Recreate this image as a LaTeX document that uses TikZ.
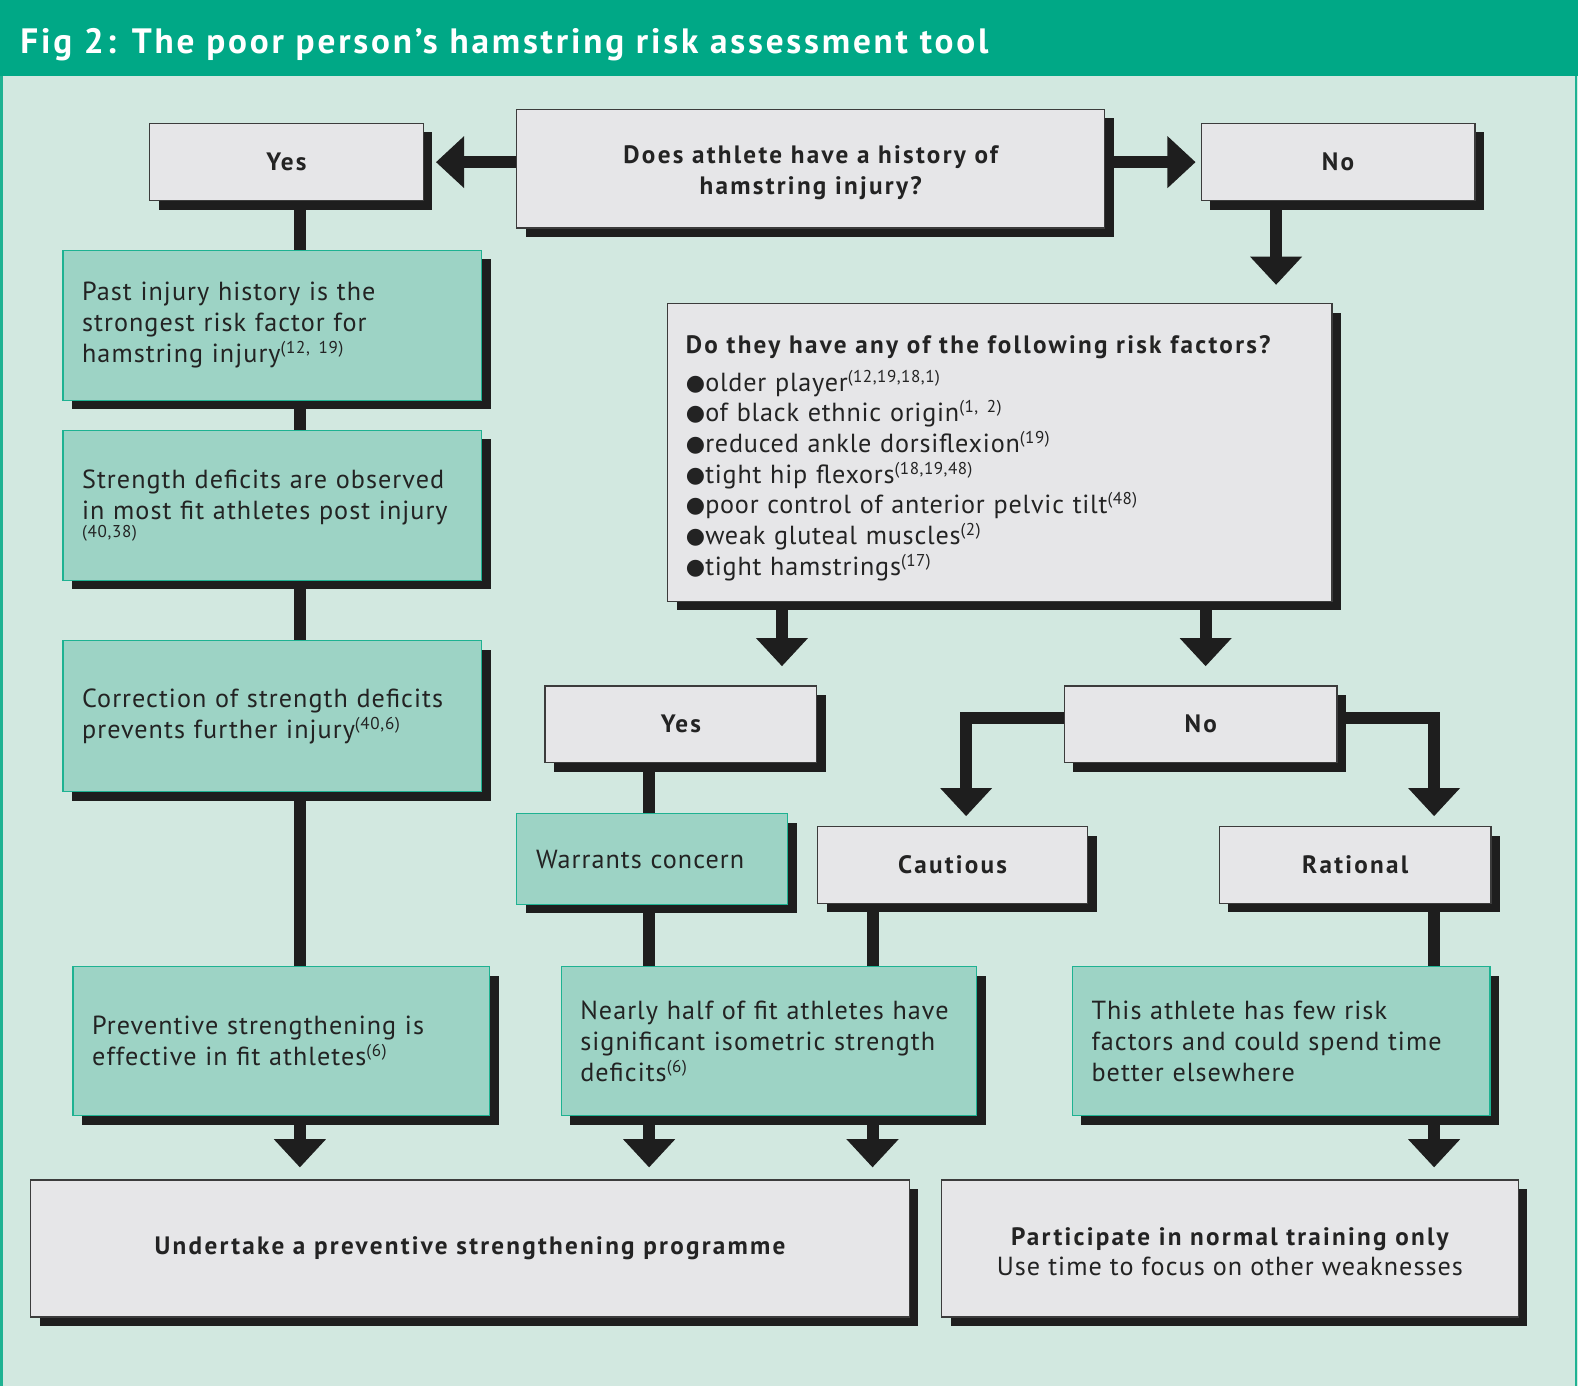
\documentclass[tikz,border=0pt]{standalone}
\usepackage{fontspec}
\setmainfont{PT Sans}
\newfontfamily\boldsp{PT Sans}[LetterSpace=9]
\newfontfamily\titlefont{PT Sans}[LetterSpace=8]
\newfontfamily\regsp{PT Sans}[LetterSpace=4]
\newfontfamily\listsp{PT Sans}[LetterSpace=3]
\newfontfamily\dejavu{DejaVu Sans}
\usetikzlibrary{shadows,arrows.meta,calc}
\definecolor{hdr}{RGB}{0,168,134}
\definecolor{bgc}{RGB}{210,232,224}
\definecolor{tfill}{RGB}{157,211,197}
\definecolor{tborder}{RGB}{30,178,146}
\definecolor{gfill}{RGB}{230,230,232}
\definecolor{gborder}{RGB}{60,60,60}
\definecolor{shad}{RGB}{30,30,30}
\definecolor{txt}{RGB}{35,35,35}
\pgfdeclarelayer{back}
\pgfdeclarelayer{lines}
\pgfsetlayers{back,lines,main}
\newcommand\rf[1]{\raisebox{9pt}{\fontsize{17}{17}\selectfont #1}}
\newcommand\bul{\raisebox{1pt}{\dejavu\fontsize{22}{22}\selectfont ●}}
\tikzset{
  boxbase/.style={anchor=north west, inner ysep=0pt, text=txt, line width=1.2pt,
    drop shadow={shadow xshift=9pt, shadow yshift=-9pt, fill=shad, opacity=1}},
  gbox/.style={boxbase, draw=gborder, fill=gfill, align=center, inner xsep=0pt,
    font=\boldsp\bfseries\fontsize{25}{31}\selectfont},
  tbox/.style={boxbase, draw=tborder, fill=tfill, align=left, inner xsep=19pt,
    font=\regsp\fontsize{26}{31}\selectfont},
  conn/.style={draw=shad, line width=12pt},
  arr/.style={conn, -{Triangle[width=50pt,length=28pt]}},
}
\begin{document}
\begin{tikzpicture}[x=1pt,y=-1pt]
\useasboundingbox (0,0) rectangle (1568,1377);
\begin{pgfonlayer}{back}
\fill[bgc] (0,0) rectangle (1568,1377);
\fill[hdr] (0,0) rectangle (1568,76);
\draw[tborder, line width=2.5pt] (1.5,76) -- (1.5,1377);
\draw[tborder, line width=2.5pt] (1566,76) -- (1566,1377);
\end{pgfonlayer}

\node[anchor=base west, text=white, inner sep=0pt,
  font=\titlefont\bfseries\fontsize{35}{35}\selectfont] (title) at (20,53)
  {Fig 2: The poor person’s hamstring risk assessment tool};

% top row
\node[gbox, minimum width=584pt, minimum height=118pt] (q1) at (513,108)
  {\rule{0pt}{26pt}Does athlete have a history of\\hamstring injury?};
\node[gbox, minimum width=272pt, minimum height=77pt] (yesT) at (148,122) {Yes};
\node[gbox, minimum width=272pt, minimum height=77pt] (noT) at (1193,122) {No};

% left column
\node[tbox, text width=378pt, minimum height=149pt] (past) at (62,248)
  {Past injury history is the\\strongest risk factor for\\hamstring injury\rf{(12, 19)}};
\node[tbox, text width=378pt, minimum height=149pt] (str) at (62,427)
  {Strength deficits are observed\\in most fit athletes post injury\\[-13pt]{\fontsize{17}{17}\selectfont (40,38)}};
\node[tbox, text width=378pt, minimum height=150pt] (corr) at (62,636)
  {Correction of strength deficits\\prevents further injury\rf{(40,6)}};
\node[tbox, text width=376pt, minimum height=148pt] (prev) at (72,960)
  {Preventive strengthening is\\effective in fit athletes\rf{(6)}};

% risk factors
\node[boxbase, draw=gborder, fill=gfill, align=left, inner xsep=18pt,
  text width=624pt, minimum height=296pt, font=\listsp\fontsize{26}{30.5}\selectfont] (risk) at (663,301)
  {{\boldsp\bfseries\fontsize{25}{31}\selectfont\rule{0pt}{29pt}Do they have any of the following risk factors?}\\[7pt]
   \bul older player\rf{(12,19,18,1)}\\
   \bul of black ethnic origin\rf{(1, 2)}\\
   \bul reduced ankle dorsiflexion\rf{(19)}\\
   \bul tight hip flexors\rf{(18,19,48)}\\
   \bul poor control of anterior pelvic tilt\rf{(48)}\\
   \bul weak gluteal muscles\rf{(2)}\\
   \bul tight hamstrings\rf{(17)}};

% middle
\node[gbox, minimum width=270pt, minimum height=76pt] (yesM) at (541,681) {Yes};
\node[gbox, minimum width=271pt, minimum height=76pt] (noM) at (1057,681) {No};
\node[tbox, text width=231pt, minimum height=90pt] (warr) at (513,808) {Warrants concern};
\node[gbox, minimum width=268pt, minimum height=76pt] (caut) at (812,821) {Cautious};
\node[gbox, minimum width=270pt, minimum height=76pt] (rat) at (1211,821) {Rational};
\node[tbox, text width=375pt, minimum height=148pt] (near) at (557,960)
  {Nearly half of fit athletes have\\significant isometric strength\\deficits\rf{(6)}};
\node[tbox, text width=377pt, minimum height=148pt] (thisA) at (1065,960)
  {This athlete has few risk\\factors and could spend time\\better elsewhere};

% bottom
\node[gbox, minimum width=873pt, minimum height=136pt] (und) at (30,1172)
  {Undertake a preventive strengthening programme};
\node[gbox, minimum width=573pt, minimum height=136pt] (part) at (935,1172)
  {\rule{0pt}{24pt}Participate in normal training only\\[-1pt]{\regsp\mdseries\fontsize{26}{31}\selectfont Use time to focus on other weaknesses}};

% connectors
\coordinate (xA) at (298,0);
\coordinate (xN) at (1268,0);
\coordinate (xY) at (777,0);
\coordinate (xNo) at (1198,0);
\coordinate (xC) at (960,0);
\coordinate (xR) at (1425,0);
\coordinate (xW) at (645,0);
\coordinate (xK) at (867,0);
\coordinate (yL) at (0,713);
\begin{pgfonlayer}{lines}
\draw[arr] (q1.west |- yesT.east) -- ($(yesT.east)+(12,0)$);
\draw[arr] (q1.east |- noT.west) -- ($(noT.west)+(-5,0)$);
\draw[arr] (noT.south -| xN) -- ($(risk.north -| xN)+(0,-18)$);
\draw[conn] (yesT.south -| xA) -- (past.north -| xA);
\draw[conn] (past.south -| xA) -- (str.north -| xA);
\draw[conn] (str.south -| xA) -- (corr.north -| xA);
\draw[conn] (corr.south -| xA) -- (prev.north -| xA);
\draw[arr] (risk.south -| xY) -- ($(yesM.north -| xY)+(0,-19)$);
\draw[arr] (risk.south -| xNo) -- ($(noM.north -| xNo)+(0,-19)$);
\draw[arr] (noM.west |- yL) -| ($(caut.north -| xC)+(0,-10)$);
\draw[arr] (noM.east |- yL) -| ($(rat.north -| xR)+(0,-10)$);
\draw[conn] (yesM.south -| xW) -- (warr.north -| xW);
\draw[conn] (warr.south -| xW) -- (near.north -| xW);
\draw[conn] (caut.south -| xK) -- (near.north -| xK);
\draw[conn] (rat.south -| xR) -- (thisA.north -| xR);
\draw[arr] (prev.south -| xA) -- ($(und.north -| xA)+(0,-12)$);
\draw[arr] (near.south -| xW) -- ($(und.north -| xW)+(0,-12)$);
\draw[arr] (near.south -| xK) -- ($(und.north -| xK)+(0,-12)$);
\draw[arr] (thisA.south -| xR) -- ($(part.north -| xR)+(0,-12)$);
\end{pgfonlayer}
\end{tikzpicture}
\end{document}
